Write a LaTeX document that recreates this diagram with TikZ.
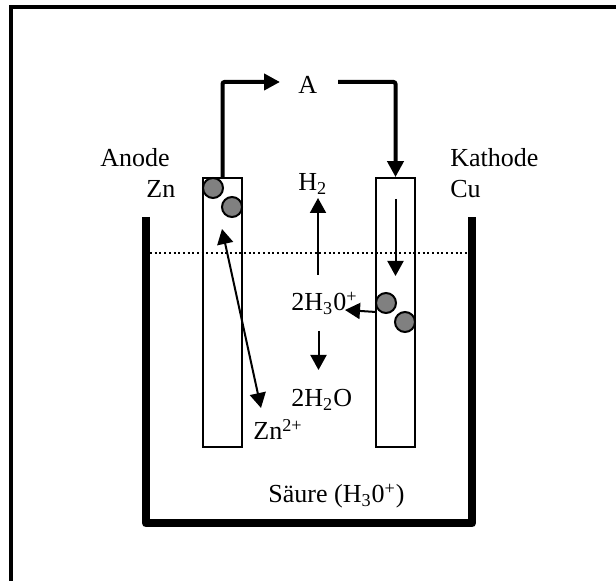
\documentclass[tikz,border=0pt]{standalone}
\usepackage{fontspec}
\setmainfont{Liberation Serif}
\usetikzlibrary{arrows.meta}
\begin{document}
\begin{tikzpicture}[
      x=0.5pt, y=-0.5pt,
      lbl/.style={font=\fontsize{13}{15}\selectfont, inner sep=0pt, anchor=base west},
      wire/.style={-{Triangle[length=8pt, width=8pt]}, line width=2pt},
      flow/.style={-{Triangle[length=7.5pt, width=8pt]}, line width=1pt},
      plate/.style={draw, line width=0.9pt, minimum width=19.5pt, minimum height=134.5pt, inner sep=0pt},
      bubble/.style={circle, draw, fill=gray, line width=1pt, minimum size=10pt, inner sep=0pt}
    ]
    \useasboundingbox (0,0) rectangle (616,581);
    % Rahmen, nur oben und links
    \coordinate (rahmena) at (616,7);
    \coordinate (rahmenb) at (11,7);
    \coordinate (rahmenc) at (11,581);
    \draw[line width=2.2pt] (rahmena) -- (rahmenb) -- (rahmenc);

    % Elektroden
    \node[plate] (anode) at (222.5,312.5) {};
    \node[plate] (kathode) at (395.5,312.5) {};
    \node[bubble] (zn1) at (213,188) {};
    \node[bubble] (zn2) at (232,207) {};
    \node[bubble] (cu1) at (386,303) {};
    \node[bubble] (cu2) at (405,322) {};

    % Beschriftung
    \node[lbl] (lanode) at (100,167) {Anode};
    \node[lbl] (lzn) at (146,198) {Zn};
    \node[lbl] (lkathode) at (450,167) {Kathode};
    \node[lbl] (lcu) at (450,198) {Cu};
    \node[lbl] (la) at (298,94) {A};
    \node[lbl] (lh2) at (298,191) {H\textsubscript{2}};
    \node[lbl] (lh3o) at (291,311) {2H\textsubscript{3}0\textsuperscript{+}};
    \node[lbl] (lh2o) at (291,407) {2H\textsubscript{2}O};
    \node[lbl] (lzn2) at (253,440) {Zn\textsuperscript{2+}};
    \node[lbl] (lsaeure) at (268,503) {Säure (H\textsubscript{3}0\textsuperscript{+})};

    % Becken und Flüssigkeit
    \coordinate (beckenl) at (146,217);
    \coordinate (beckenr) at (472,217);
    \draw[line width=4pt, line join=round] (beckenl) |- (472,523.5) -- (beckenr);
    \coordinate (spiegell) at (150,253);
    \coordinate (spiegelr) at (468,253);
    \draw[line width=0.8pt, dash pattern=on 1pt off 1.35pt] (spiegell) -- (spiegelr);

    % Leiter
    \coordinate (wirea) at (280,82);
    \coordinate (wireb) at (338,82);
    \draw[wire, rounded corners=1pt] (anode.north) |- (wirea);
    \draw[wire, rounded corners=1pt] (wireb) -| (kathode.north);

    % Reaktionen
    \coordinate (h2a) at (318,275);
    \coordinate (h2b) at (318,198);
    \draw[flow] (h2a) -- (h2b);
    \coordinate (h2oa) at (318.5,331);
    \coordinate (h2ob) at (318.5,370);
    \draw[flow] (h2oa) -- (h2ob);
    \coordinate (ea) at (395.5,199);
    \coordinate (eb) at (395.5,276);
    \draw[flow] (ea) -- (eb);
    \coordinate (ha) at (376,312);
    \coordinate (hb) at (345,310);
    \draw[flow] (ha) -- (hb);
    \coordinate (zna) at (222,229);
    \coordinate (znb) at (261,408);
    \draw[flow, {Triangle[length=7.5pt, width=8pt]}-{Triangle[length=7.5pt, width=8pt]}] (zna) -- (znb);
  \end{tikzpicture}
\end{document}
